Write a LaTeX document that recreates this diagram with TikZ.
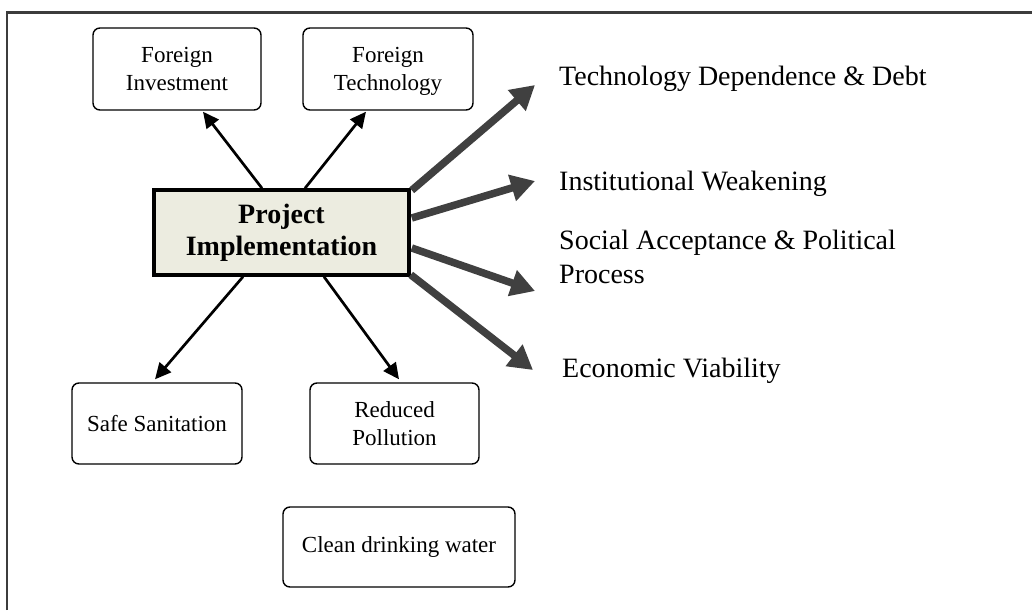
\documentclass[tikz,border=0pt]{standalone}
\usepackage{fontspec}
\setmainfont{Liberation Serif}
\usetikzlibrary{arrows.meta}
\definecolor{framegray}{RGB}{60,60,60}
\definecolor{arrowgray}{RGB}{64,64,64}
\definecolor{boxfill}{RGB}{236,236,224}
\tikzset{
  smallbox/.style={draw=black, line width=1.4pt, rounded corners=7pt, inner sep=0pt,
    align=center, font=\fontsize{23}{28}\selectfont},
  mainbox/.style={draw=black, line width=3.5pt, fill=boxfill, inner sep=0pt,
    align=center, font=\fontsize{28}{32}\selectfont\bfseries},
  biglabel/.style={anchor=base west, inner sep=0pt, align=left, font=\fontsize{28}{34}\selectfont},
  thinarrow/.style={draw=black, line width=2.7pt, -{Triangle[length=16pt,width=15pt]}},
  thickarrow/.style={draw=arrowgray, line width=7.5pt, -{Triangle[length=24pt,width=26pt]}},
}
\begin{document}
\begin{tikzpicture}[x=1pt,y=-1pt]
\useasboundingbox (0,0) rectangle (1032,610);
% frame (top and left edges visible)
\draw[framegray, line width=2.2pt] (7,610) -- (7,12.5) -- (1032,12.5);

\node[smallbox, minimum width=168pt, minimum height=82pt] (FI) at (177,69) {Foreign\\Investment};
\node[smallbox, minimum width=170pt, minimum height=82pt, text depth=0pt] (FT) at (388,69) {Foreign\\Technology};
\node[mainbox, minimum width=255pt, minimum height=85pt] (PI) at (281.5,232.5) {Project\\Implementation};
\node[smallbox, minimum width=170pt, minimum height=81pt] (SS) at (157,423.5) {Safe Sanitation};
\node[smallbox, minimum width=169pt, minimum height=81pt] (RP) at (394.5,423.5) {Reduced\\Pollution};
\node[smallbox, minimum width=232pt, minimum height=80pt] (CW) at (399,547) {Clean drinking water};

\node[biglabel] (L1) at (559,85) {Technology Dependence \& Debt};
\node[biglabel] (L2) at (559,190) {Institutional Weakening};
\node[biglabel] (L3) at (559,283) {Social Acceptance \& Political\\Process};
\node[biglabel] (L4) at (562,377) {Economic Viability};

\coordinate (T1) at (535,85);
\coordinate (T2) at (535,181);
\coordinate (T3) at (535,291);
\coordinate (T4) at (533,370);

% thin arrows
\draw[thinarrow] ([xshift=-19.5pt]PI.north) -- ([xshift=26pt,yshift=-1pt]FI.south);
\draw[thinarrow] ([xshift=23.5pt]PI.north) -- ([xshift=-22pt,yshift=-1pt]FT.south);
\draw[thinarrow] ([xshift=-38.5pt]PI.south) -- ([xshift=-2pt,yshift=3pt]SS.north);
\draw[thinarrow] ([xshift=42.5pt]PI.south) -- ([xshift=4.5pt,yshift=3pt]RP.north);

% thick arrows
\draw[thickarrow] ([xshift=1pt,yshift=-2pt]PI.north east) -- (T1);
\draw[thickarrow] ([xshift=1pt,yshift=14.5pt]PI.east) -- (T2);
\draw[thickarrow] ([xshift=1pt,yshift=-15.5pt]PI.east) -- (T3);
\draw[thickarrow] ([xshift=0pt,yshift=2pt]PI.south east) -- (T4);
\end{tikzpicture}
\end{document}
